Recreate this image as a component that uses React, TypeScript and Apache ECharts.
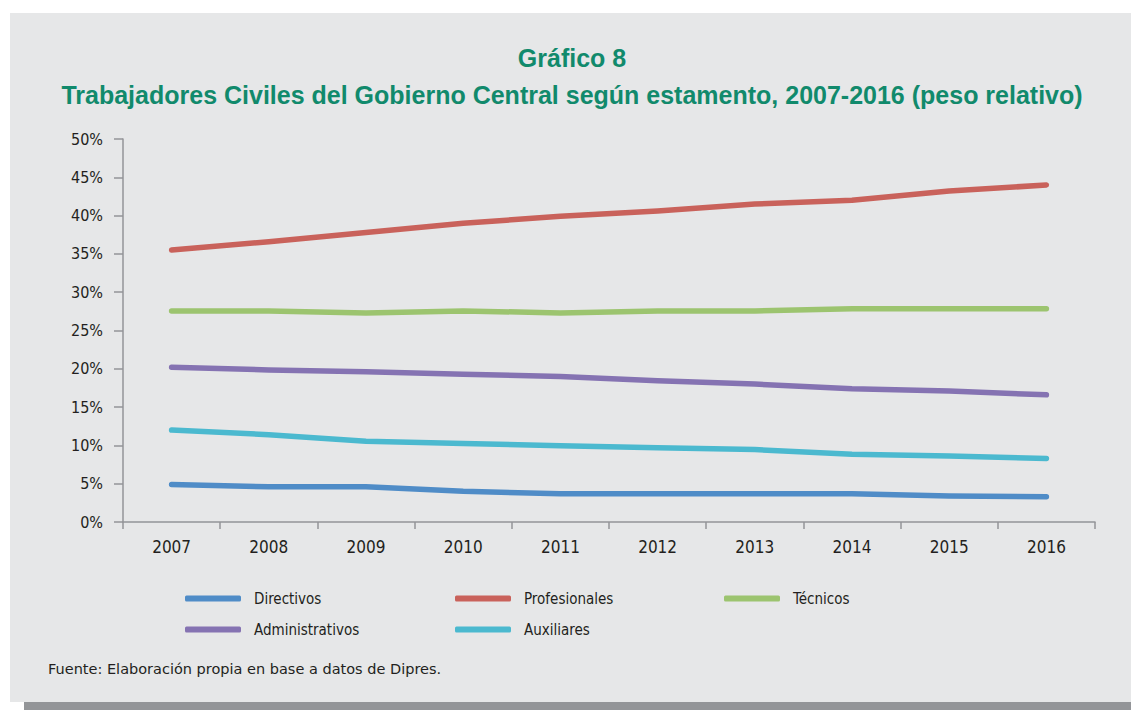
import React, { useEffect, useRef } from "react";
import * as echarts from "echarts";

const years = ["2007", "2008", "2009", "2010", "2011", "2012", "2013", "2014", "2015", "2016"];
const directivos = [4.9, 4.6, 4.6, 4.0, 3.7, 3.7, 3.7, 3.7, 3.4, 3.3];
const profesionales = [35.5, 36.6, 37.8, 39.0, 39.9, 40.6, 41.5, 42.0, 43.2, 44.0];
const tecnicos = [27.55, 27.55, 27.3, 27.55, 27.3, 27.55, 27.55, 27.85, 27.85, 27.85];
const administrativos = [20.2, 19.85, 19.6, 19.3, 19.0, 18.45, 18.0, 17.4, 17.1, 16.6];
const auxiliares = [12.0, 11.4, 10.55, 10.25, 9.95, 9.7, 9.45, 8.85, 8.6, 8.3];

const seriesNames = ["Directivos", "Profesionales", "Técnicos", "Administrativos", "Auxiliares"];
const seriesData = [directivos, profesionales, tecnicos, administrativos, auxiliares];
const seriesColors = ["#4F8CC7", "#C9625B", "#9CC46F", "#8573B2", "#4BB9CF"];
const legendPos = [
  [185, 591],
  [455, 591],
  [724, 591],
  [185, 622],
  [455, 622],
];

const titleText = "Gráfico 8";
const subtitleText = "Trabajadores Civiles del Gobierno Central según estamento, 2007-2016 (peso relativo)";
const sourceText = "Fuente: Elaboración propia en base a datos de Dipres.";

const condFont = "'DejaVu Sans Condensed', 'Liberation Sans Narrow', sans-serif";

export default function App() {
  const ref = useRef<HTMLDivElement>(null);
  useEffect(() => {
    document.body.style.margin = "0";
    const chart = echarts.init(ref.current!, null, { renderer: "svg" });
    chart.setOption({
      animation: false,
      backgroundColor: "#ffffff",
      graphic: [
        { type: "rect", z: -10, shape: { x: 10, y: 13, width: 1121, height: 689 }, style: { fill: "#E6E7E8" } },
        { type: "rect", z: -10, shape: { x: 24, y: 702, width: 1107, height: 8 }, style: { fill: "#939598" } },
        {
          type: "text", x: 572, y: 58,
          style: { text: titleText, fill: "#118A6C", font: "bold 25px 'Liberation Sans', sans-serif", textAlign: "center", textVerticalAlign: "middle" },
        },
        {
          type: "text", x: 572, y: 95,
          style: { text: subtitleText, fill: "#118A6C", font: "bold 25px 'Liberation Sans', sans-serif", textAlign: "center", textVerticalAlign: "middle" },
        },
        {
          type: "text", x: 48, y: 669,
          style: { text: sourceText, fill: "#231F20", font: "14.5px 'DejaVu Sans', sans-serif", textAlign: "left", textVerticalAlign: "middle" },
        },
      ],
      legend: seriesNames.map((n, i) => ({
        data: [n],
        left: legendPos[i][0],
        top: legendPos[i][1],
        icon: "roundRect",
        itemWidth: 56,
        itemHeight: 6,
        itemGap: 0,
        padding: 0,
        textStyle: { fontFamily: condFont, fontSize: 15, color: "#231F20", padding: [0, 0, 0, 8] },
      })),
      grid: { left: 123, right: 36, top: 139, bottom: 188, containLabel: false },
      xAxis: {
        type: "category",
        data: years,
        boundaryGap: true,
        axisLine: { show: true, lineStyle: { color: "#939598", width: 1.5 } },
        axisTick: { show: true, length: 7, lineStyle: { color: "#939598", width: 1.5 } },
        axisLabel: { fontFamily: condFont, fontSize: 17, color: "#231F20", margin: 16 },
      },
      yAxis: {
        type: "value",
        min: 0,
        max: 50,
        interval: 5,
        axisLine: { show: true, lineStyle: { color: "#939598", width: 1.5 } },
        axisTick: { show: true, length: 9, lineStyle: { color: "#939598", width: 1.5 } },
        splitLine: { show: false },
        axisLabel: { formatter: "{value}%", fontFamily: condFont, fontSize: 16, color: "#231F20", margin: 20 },
      },
      series: seriesNames.map((n, i) => ({
        name: n,
        type: "line",
        data: seriesData[i],
        showSymbol: false,
        symbol: "none",
        color: seriesColors[i],
        lineStyle: { width: 5.5, color: seriesColors[i], cap: "round", join: "round" },
        itemStyle: { color: seriesColors[i] },
      })),
    });
    return () => chart.dispose();
  }, []);
  return <div ref={ref} style={{ width: 1131, height: 710 }} />;
}
